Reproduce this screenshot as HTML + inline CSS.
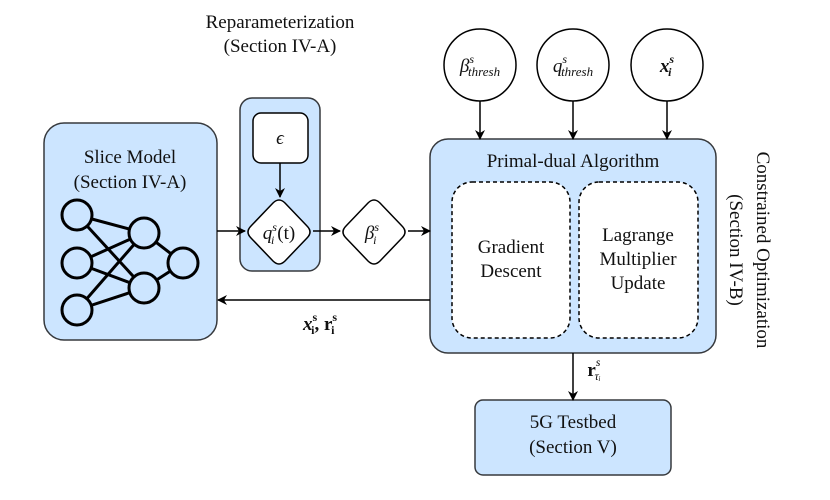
<!DOCTYPE html>
<html><head><meta charset="utf-8"><style>body{margin:0;background:#fff}svg{display:block}text{font-family:"Liberation Serif","Times New Roman",serif;fill:#111}</style></head><body>
<svg width="830" height="500" viewBox="0 0 830 500" xmlns="http://www.w3.org/2000/svg">
<defs><marker id="a" markerWidth="10" markerHeight="10" refX="9" refY="5" orient="auto" markerUnits="userSpaceOnUse"><path d="M0,0 L10,5 L0,10 L3,5 z" fill="#000"/></marker></defs>
<g stroke="#36393d" stroke-width="1.5" fill="#cce5ff">
<rect x="44" y="123" width="173" height="217" rx="20"/>
<rect x="240" y="98" width="80" height="173" rx="12"/>
<rect x="430" y="139" width="286" height="214" rx="18"/>
<rect x="475" y="400" width="196" height="75" rx="8"/>
</g>
<g stroke="#000" stroke-width="1.5" fill="#fff">
<rect x="253" y="113" width="55" height="50" rx="8"/>
<path d="M273,203 Q279,197 285,203 L307,226 Q313,232 307,238 L285,261 Q279,267 273,261 L251,238 Q245,232 251,226 Z"/>
<path d="M368,203 Q374,197 380,203 L402,226 Q408,232 402,238 L380,261 Q374,267 368,261 L346,238 Q340,232 346,226 Z"/>
<circle cx="480" cy="65" r="36"/><circle cx="573" cy="65" r="36"/><circle cx="667" cy="65" r="36"/>
<rect x="452" y="182" width="118" height="156" rx="20" stroke-dasharray="4,3"/>
<rect x="579" y="182" width="119" height="156" rx="20" stroke-dasharray="4,3"/>
</g>
<g stroke="#000" stroke-width="3" fill="none">
<line x1="77" y1="215" x2="144" y2="233"/><line x1="77" y1="215" x2="144" y2="288"/>
<line x1="77" y1="263" x2="144" y2="233"/><line x1="77" y1="263" x2="144" y2="288"/>
<line x1="77" y1="310" x2="144" y2="233"/><line x1="77" y1="310" x2="144" y2="288"/>
<line x1="144" y1="233" x2="183" y2="263"/><line x1="144" y1="288" x2="183" y2="263"/>
<g fill="#cce5ff"><circle cx="77" cy="215" r="15"/><circle cx="77" cy="263" r="15"/><circle cx="77" cy="310" r="15"/><circle cx="144" cy="233" r="15"/><circle cx="144" cy="288" r="15"/><circle cx="183" cy="263" r="15"/></g>
</g>
<g stroke="#000" stroke-width="1.5" marker-end="url(#a)">
<line x1="217" y1="231" x2="245" y2="231"/>
<line x1="313" y1="231" x2="340" y2="231"/>
<line x1="408" y1="231" x2="430" y2="231"/>
<line x1="280" y1="163" x2="280" y2="197"/>
<line x1="430" y1="300" x2="218" y2="300"/>
<line x1="480" y1="101" x2="480" y2="139"/>
<line x1="573" y1="101" x2="573" y2="139"/>
<line x1="667" y1="101" x2="667" y2="139"/>
<line x1="573" y1="353" x2="573" y2="400"/>
</g>
<g font-size="19" text-anchor="middle">
<text x="130" y="163">Slice Model</text><text x="130" y="188">(Section IV-A)</text>
<text x="280" y="28">Reparameterization</text><text x="280" y="52">(Section IV-A)</text>
<text x="573" y="167">Primal-dual Algorithm</text>
<text x="511" y="253">Gradient</text><text x="511" y="277">Descent</text>
<text x="638" y="241">Lagrange</text><text x="638" y="265">Multiplier</text><text x="638" y="289">Update</text>
<text x="573" y="428">5G Testbed</text><text x="573" y="453">(Section V)</text>
<text transform="translate(757,250) rotate(90)">Constrained Optimization</text>
<text transform="translate(730,250) rotate(90)">(Section IV-B)</text>
<text x="280" y="144" font-style="italic">ϵ</text>
<text x="279" y="239" font-style="italic">q<tspan font-size="12" dy="-8">s</tspan><tspan font-size="12" dx="-6" dy="13">i</tspan><tspan dx="3" dy="-5" font-style="normal">(t)</tspan></text>
<text x="372" y="239" font-style="italic">β<tspan font-size="12" dy="-8">s</tspan><tspan font-size="12" dx="-6" dy="13">i</tspan></text>
<text x="480" y="72" font-style="italic">β<tspan font-size="12" dy="-9">s</tspan><tspan font-size="13" dx="-6" dy="13">thresh</tspan></text>
<text x="573" y="72" font-style="italic">q<tspan font-size="12" dy="-9">s</tspan><tspan font-size="13" dx="-6" dy="13">thresh</tspan></text>
<text x="667" y="72" font-style="italic" font-weight="bold">x<tspan font-size="12" dy="-9">s</tspan><tspan font-size="12" dx="-6" dy="13">i</tspan></text>
<text x="320" y="330" font-weight="bold"><tspan font-style="italic">x</tspan><tspan font-size="12" dy="-9">s</tspan><tspan font-size="12" dx="-6" dy="13">i</tspan><tspan dy="-4">, r</tspan><tspan font-size="12" dy="-9">s</tspan><tspan font-size="12" dx="-6" dy="13">i</tspan></text>
<text x="594" y="376" font-weight="bold">r<tspan font-size="12" font-weight="normal" font-style="italic" dy="-10">s</tspan><tspan font-size="12" font-weight="normal" font-style="italic" dx="-6" dy="14">τᵢ</tspan></text>
</g>
</svg>
</body></html>
